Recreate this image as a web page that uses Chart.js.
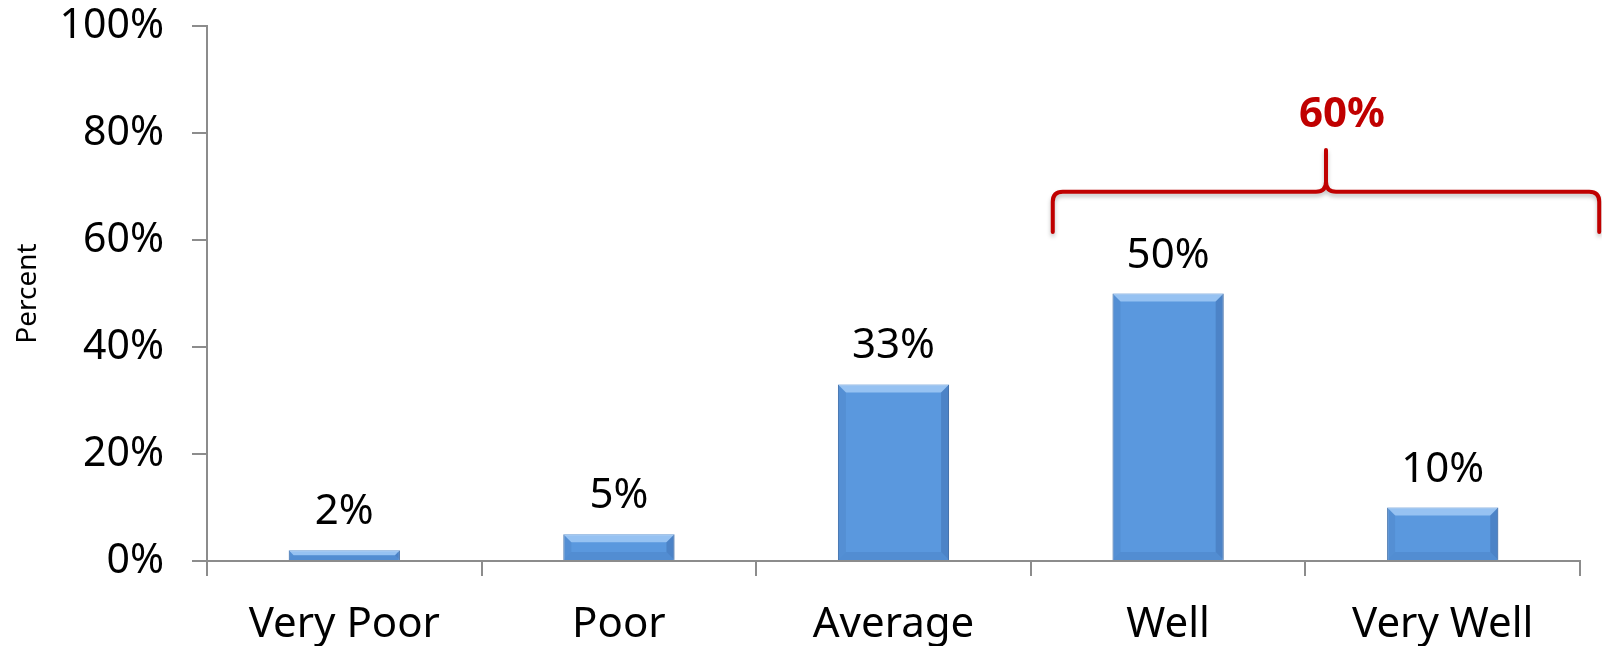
<!DOCTYPE html>
<html>
<head>
    <title>Rating distribution</title>
    <script src="https://cdn.jsdelivr.net/npm/chart.js@4.4.0/dist/chart.umd.min.js"></script>
    <style>
        body { margin: 0; background: #fff; }
        canvas { display: block; }
    </style>
</head>
<body>
<canvas id="canvas" width="1602" height="646"></canvas>
<script>
    var categories = ['Very Poor', 'Poor', 'Average', 'Well', 'Very Well'];
    var percents = [2, 5, 33, 50, 10];
    var yTicks = [0, 20, 40, 60, 80, 100];
    var braceLabel = '60%';
    var braceFrom = 3, braceTo = 4;

    var FONT = "'Noto Sans', sans-serif";
    var RED = '#C00000';

    // value labels above each bar + a little bevel on the bars
    var barDecor = {
        id: 'barDecor',
        afterDatasetsDraw: function(chart) {
            var ctx = chart.ctx;
            var meta = chart.getDatasetMeta(0);
            meta.data.forEach(function(bar, i) {
                var l = bar.x - bar.width / 2, r = bar.x + bar.width / 2;
                var t = bar.y, b = bar.base;
                var e = Math.min(8, (b - t) / 2);
                ctx.save();
                ctx.fillStyle = 'rgba(190,222,255,0.6)';
                ctx.beginPath();
                ctx.moveTo(l, t); ctx.lineTo(r, t); ctx.lineTo(r - e, t + e); ctx.lineTo(l + e, t + e); ctx.closePath();
                ctx.fill();
                ctx.fillStyle = 'rgba(40,80,140,0.28)';
                ctx.beginPath();
                ctx.moveTo(r, t); ctx.lineTo(r, b); ctx.lineTo(r - e, b - e); ctx.lineTo(r - e, t + e); ctx.closePath();
                ctx.fill();
                ctx.fillStyle = 'rgba(40,80,140,0.15)';
                ctx.beginPath();
                ctx.moveTo(l, b); ctx.lineTo(r, b); ctx.lineTo(r - e, b - e); ctx.lineTo(l + e, b - e); ctx.closePath();
                ctx.fill();
                ctx.fillStyle = 'rgba(40,80,140,0.12)';
                ctx.beginPath();
                ctx.moveTo(l, t); ctx.lineTo(l, b); ctx.lineTo(l + e, b - e); ctx.lineTo(l + e, t + e); ctx.closePath();
                ctx.fill();
                ctx.fillStyle = '#000';
                ctx.font = '42px ' + FONT;
                ctx.textAlign = 'center';
                ctx.textBaseline = 'alphabetic';
                ctx.fillText(percents[i] + '%', bar.x, t - 26);
                ctx.restore();
            });
        }
    };

    // red curly brace grouping Well + Very Well
    var brace = {
        id: 'brace',
        afterDraw: function(chart) {
            var ctx = chart.ctx;
            var xs = chart.scales.x, ys = chart.scales.y;
            var step = xs.getPixelForValue(1) - xs.getPixelForValue(0);
            var x0 = xs.getPixelForValue(braceFrom) - 0.42 * step;
            var x1 = xs.getPixelForValue(braceTo) + 0.57 * step;
            var xm = (x0 + x1) / 2;
            var yb = ys.getPixelForValue(69);
            var yEnd = ys.getPixelForValue(61.5);
            var yTip = ys.getPixelForValue(76.8);
            var r = 10;
            ctx.save();
            ctx.shadowColor = 'rgba(0,0,0,0.25)';
            ctx.shadowBlur = 4;
            ctx.shadowOffsetY = 3;
            ctx.strokeStyle = RED;
            ctx.lineWidth = 4;
            ctx.lineCap = 'round';
            ctx.lineJoin = 'round';
            ctx.beginPath();
            ctx.moveTo(x0, yEnd);
            ctx.lineTo(x0, yb + r);
            ctx.quadraticCurveTo(x0, yb, x0 + r, yb);
            ctx.lineTo(xm - r, yb);
            ctx.quadraticCurveTo(xm, yb, xm, yb - r);
            ctx.lineTo(xm, yTip);
            ctx.moveTo(xm, yb - r);
            ctx.quadraticCurveTo(xm, yb, xm + r, yb);
            ctx.lineTo(x1 - r, yb);
            ctx.quadraticCurveTo(x1, yb, x1, yb + r);
            ctx.lineTo(x1, yEnd);
            ctx.stroke();
            ctx.restore();
            ctx.save();
            ctx.fillStyle = RED;
            ctx.font = 'bold 42px ' + FONT;
            ctx.textAlign = 'center';
            ctx.textBaseline = 'middle';
            ctx.fillText(braceLabel, xm + 16, ys.getPixelForValue(83.4));
            ctx.restore();
        }
    };

    var context = document.getElementById('canvas').getContext('2d');
    var myBarChart = new Chart(context, {
        type: 'bar',
        data: {
            labels: categories,
            datasets: [{
                data: percents,
                backgroundColor: '#5A98DE',
                borderColor: '#4172AE',
                borderWidth: 1,
                categoryPercentage: 0.8,
                barPercentage: 0.506
            }]
        },
        options: {
            responsive: false,
            animation: false,
            layout: { padding: { top: 26, right: 22, left: 0, bottom: 0 } },
            plugins: {
                legend: { display: false },
                tooltip: { enabled: false }
            },
            scales: {
                x: {
                    afterFit: function(axis) {
                        axis.height = 85;
                        axis.paddingLeft = 0;
                        axis.paddingRight = 0;
                    },
                    grid: { offset: true, drawOnChartArea: false, color: '#8c8c8c', tickLength: 15, lineWidth: 2 },
                    border: { color: '#8c8c8c', width: 2 },
                    ticks: { color: '#000', font: { family: FONT, size: 42 }, padding: 24, maxRotation: 0 }
                },
                y: {
                    min: 0,
                    max: 100,
                    afterBuildTicks: function(axis) {
                        axis.ticks = yTicks.map(function(v) { return { value: v }; });
                    },
                    afterFit: function(axis) {
                        axis.width = 207;
                        axis.paddingTop = 0;
                        axis.paddingBottom = 0;
                    },
                    grid: { drawOnChartArea: false, color: '#8c8c8c', tickLength: 15, lineWidth: 2 },
                    border: { color: '#8c8c8c', width: 2 },
                    ticks: {
                        color: '#000',
                        font: { family: FONT, size: 41 },
                        padding: 28,
                        callback: function(v) { return v + '%'; }
                    },
                    title: {
                        display: true,
                        text: 'Percent',
                        color: '#000',
                        font: { family: FONT, size: 28 },
                        padding: { top: 11, bottom: 0 }
                    }
                }
            }
        },
        plugins: [barDecor, brace]
    });
</script>
</body>
</html>
